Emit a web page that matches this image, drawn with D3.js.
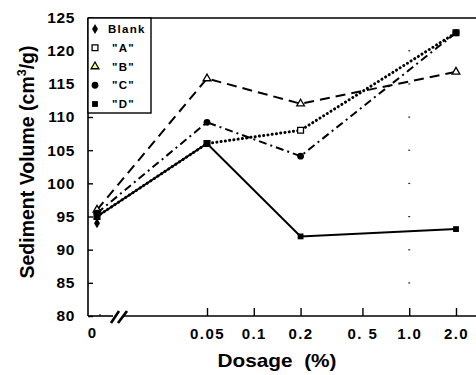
<!DOCTYPE html>
<html>
<head>
<meta charset="utf-8">
<script src="https://cdn.jsdelivr.net/npm/d3@7"></script>
<style>
  html, body { margin: 0; padding: 0; background: #fff; }
  svg { display: block; }
  text { font-family: "Liberation Sans", Arial, Helvetica, sans-serif; font-weight: bold; fill: #000; }
</style>
</head>
<body>
<svg id="chart" width="476" height="375"></svg>
<script>
// Dosage levels (%); 0 sits on the left of the axis break
const dosages = [0, 0.05, 0.2, 2.0];

// Sediment volume (cm3/g) per product
const blank = [94];
const seriesA = [95, 106, 108, 122.7];
const seriesB = [96, 115.8, 112, 116.8];
const seriesC = [95.5, 109.2, 104.1, 122.7];
const seriesD = [95, 106, 92, 93.1];

// Axis ticks
const yTicks = [80, 85, 90, 95, 100, 105, 110, 115, 120, 125];
const xTicks = [0.05, 0.1, 0.2, 0.5, 1.0, 2.0];
const xTickLabels = ["0.05", "0.1", "0.2", "0. 5", "1.0", "2.0"];
const gridDotValues = [85, 90, 95, 100, 105, 110, 115, 120];

const legendLabels = ["Blank", "\"A\"", "\"B\"", "\"C\"", "\"D\""];

const svg = d3.select("#chart");
const W = 476;
const plotLeft = 88, plotTop = 18, plotBottom = 316;

const y = d3.scaleLinear().domain([80, 125]).range([plotBottom, 17.5]);
const xLog = d3.scaleLog().domain([0.05, 2]).range([207, 456]);
const zeroX = 97;
const xPos = d => d === 0 ? zeroX : xLog(d);

// frame: top line and left axis line
svg.append("line").attr("x1", plotLeft).attr("x2", W).attr("y1", plotTop).attr("y2", plotTop)
  .attr("stroke", "#000").attr("stroke-width", 1.6);
svg.append("line").attr("x1", plotLeft).attr("x2", plotLeft).attr("y1", plotTop).attr("y2", plotBottom)
  .attr("stroke", "#000").attr("stroke-width", 1.6);

// bottom axis line with break
svg.append("line").attr("x1", plotLeft).attr("x2", 113).attr("y1", plotBottom).attr("y2", plotBottom)
  .attr("stroke", "#000").attr("stroke-width", 1.6);
svg.append("line").attr("x1", 124).attr("x2", W).attr("y1", plotBottom).attr("y2", plotBottom)
  .attr("stroke", "#000").attr("stroke-width", 1.6);
[[111, 119], [118, 127]].forEach(([a, b]) => {
  svg.append("line").attr("x1", a).attr("y1", plotBottom + 7).attr("x2", b).attr("y2", plotBottom - 5)
    .attr("stroke", "#000").attr("stroke-width", 2.6);
});

// y axis
const yAxis = d3.axisLeft(y).tickValues(yTicks).tickSizeInner(-5).tickSizeOuter(0).tickPadding(13);
const gy = svg.append("g").attr("transform", `translate(${plotLeft},0)`).call(yAxis);
gy.select(".domain").remove();
gy.selectAll(".tick line").attr("stroke-width", 1.4);
gy.selectAll(".tick text").attr("font-size", 15.5).style("font-family", "Liberation Sans, Arial, sans-serif")
  .attr("font-weight", "bold").attr("letter-spacing", 0.6);

// x axis (log part)
const xAxis = d3.axisBottom(xLog).tickValues(xTicks).tickFormat((d, i) => xTickLabels[i])
  .tickSizeInner(-8).tickSizeOuter(0).tickPadding(12);
const gx = svg.append("g").attr("transform", `translate(0,${plotBottom})`).call(xAxis);
gx.select(".domain").remove();
gx.selectAll(".tick line").attr("stroke-width", 1.4);
gx.selectAll(".tick text").attr("font-size", 15).style("font-family", "Liberation Sans, Arial, sans-serif")
  .attr("font-weight", "bold").attr("letter-spacing", 1.4);

// zero tick and label
svg.append("line").attr("x1", zeroX + 3).attr("x2", zeroX + 3).attr("y1", plotBottom).attr("y2", plotBottom - 2)
  .attr("stroke", "#000").attr("stroke-width", 1);
svg.append("text").attr("x", zeroX - 5).attr("y", 338).attr("text-anchor", "middle")
  .attr("font-size", 15).text("0");

// faint dotted guide at 1.0
svg.append("g").selectAll("rect").data(gridDotValues).join("rect")
  .attr("x", xLog(1.0) - 1).attr("y", d => y(d) - 0.5).attr("width", 2).attr("height", 1.2)
  .attr("fill", "#333");

// series lines
const line = d3.line().x(d => xPos(d[0])).y(d => y(d[1]));
const lineSets = [
  { vals: seriesB, dash: "10,6", width: 2, cap: "butt" },
  { vals: seriesC, dash: "8,4,2,4", width: 2, cap: "butt" },
  { vals: seriesA, dash: "0.1,4.2", width: 3, cap: "round" },
  { vals: seriesD, dash: null, width: 2, cap: "butt" }
];
lineSets.forEach(s => {
  svg.append("path")
    .datum(dosages.map((d, i) => [d, s.vals[i]]))
    .attr("d", line)
    .attr("fill", "none")
    .attr("stroke", "#000")
    .attr("stroke-width", s.width)
    .attr("stroke-linecap", s.cap)
    .attr("stroke-dasharray", s.dash);
});

// marker shapes
const sym = {
  diamond: d3.symbol().type(d3.symbolDiamond).size(30),
  square: d3.symbol().type(d3.symbolSquare).size(34),
  triangle: d3.symbol().type(d3.symbolTriangle).size(26),
  circle: d3.symbol().type(d3.symbolCircle).size(36)
};
const markerStyles = [
  { key: "diamond", fill: "#000", stroke: "none" },
  { key: "square", fill: "#fff", stroke: "#000" },
  { key: "triangle", fill: "#fff", stroke: "#000" },
  { key: "circle", fill: "#000", stroke: "none" },
  { key: "square", fill: "#000", stroke: "none" }
];
const allSeries = [blank, seriesA, seriesB, seriesC, seriesD];

allSeries.forEach((vals, si) => {
  const st = markerStyles[si];
  svg.append("g").selectAll("path").data(vals.map((v, i) => [dosages[i], v])).join("path")
    .attr("transform", d => `translate(${xPos(d[0])},${y(d[1])})`)
    .attr("d", sym[st.key]())
    .attr("fill", st.fill)
    .attr("stroke", st.stroke)
    .attr("stroke-width", 1.3);
});

// legend
const legend = svg.append("g");
legend.append("rect").attr("x", plotLeft).attr("y", plotTop).attr("width", 63).attr("height", 95)
  .attr("fill", "#fff").attr("stroke", "#000").attr("stroke-width", 1.4);
const legendY = d3.scalePoint().domain(legendLabels).range([29, 104]);
const legendFill = ["#000", "#fff", "#ffff80", "#000", "#000"];
legendLabels.forEach((lab, i) => {
  const st = markerStyles[i];
  legend.append("path")
    .attr("transform", `translate(95,${legendY(lab)})`)
    .attr("d", sym[st.key]())
    .attr("fill", legendFill[i]).attr("stroke", st.stroke).attr("stroke-width", 1.3);
  legend.append("text")
    .attr("x", i === 0 ? 108 : 112).attr("y", legendY(lab)).attr("dy", "0.36em")
    .attr("font-size", 11.5).attr("letter-spacing", 1.3).text(lab);
});

// axis titles
svg.append("text").attr("x", 277).attr("y", 367).attr("text-anchor", "middle")
  .attr("font-size", 18.5).attr("textLength", 119).attr("lengthAdjust", "spacingAndGlyphs")
  .attr("xml:space", "preserve").text("Dosage  (%)");

const yt = svg.append("text")
  .attr("transform", "translate(34,162) rotate(-90)")
  .attr("text-anchor", "middle").attr("font-size", 19.5);
yt.append("tspan").text("Sediment Volume (cm");
yt.append("tspan").attr("font-size", 12.5).attr("dy", -8).text("3");
yt.append("tspan").attr("dy", 8).text("/g)");
</script>
</body>
</html>
